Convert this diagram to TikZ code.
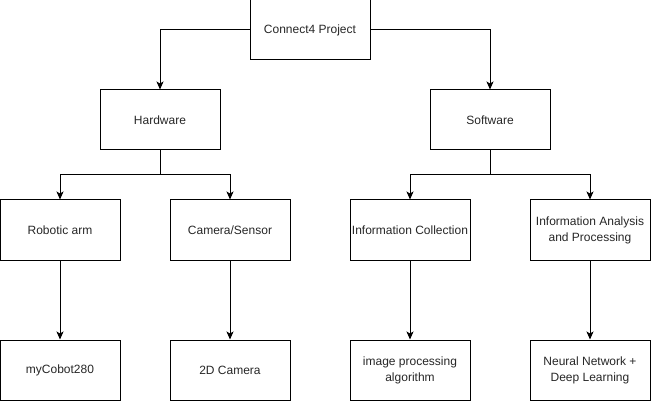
\documentclass[tikz,border=0pt]{standalone}
\usepackage{fontspec}
\setmainfont{Liberation Sans}
\usetikzlibrary{arrows.meta}
\begin{document}
\begin{tikzpicture}[x=1pt,y=-1pt,
  box/.style={draw=black,line width=1pt,minimum width=120pt,minimum height=60pt,inner sep=0pt,align=center,font=\fontsize{12}{16}\selectfont,text=black!85},
  conn/.style={draw=black,line width=1pt,-{Stealth[length=8pt,width=7pt,inset=2pt]}}]
\useasboundingbox (0,0) rectangle (651,401);
\node[box] (root) at (310,30) {Connect4 Project};
\node[box] (hw) at (160,120) {Hardware};
\node[box] (sw) at (490,120) {Software};
\node[box] (arm) at (60,230) {Robotic arm};
\node[box] (cam) at (230,230) {Camera/Sensor};
\node[box] (ic) at (410,230) {Information Collection};
\node[box] (ia) at (590,230) {Information Analysis\\and Processing};
\node[box] (myc) at (60,370) {myCobot280};
\node[box] (cam2) at (230,370) {2D Camera};
\node[box] (ipa) at (410,370) {image processing\\algorithm};
\node[box] (nn) at (590,370) {Neural Network +\\Deep Learning};
\draw[conn] (root.west) -| (hw.north);
\draw[conn] (root.east) -| (sw.north);
\coordinate (hwj) at (160,175);
\coordinate (swj) at (490,175);
\draw[line width=1pt] (hw.south) -- (hwj);
\draw[conn] (hwj) -| (arm.north);
\draw[conn] (hwj) -| (cam.north);
\draw[line width=1pt] (sw.south) -- (swj);
\draw[conn] (swj) -| (ic.north);
\draw[conn] (swj) -| (ia.north);
\draw[conn] (arm) -- (myc);
\draw[conn] (cam) -- (cam2);
\draw[conn] (ic) -- (ipa);
\draw[conn] (ia) -- (nn);
\end{tikzpicture}
\end{document}
